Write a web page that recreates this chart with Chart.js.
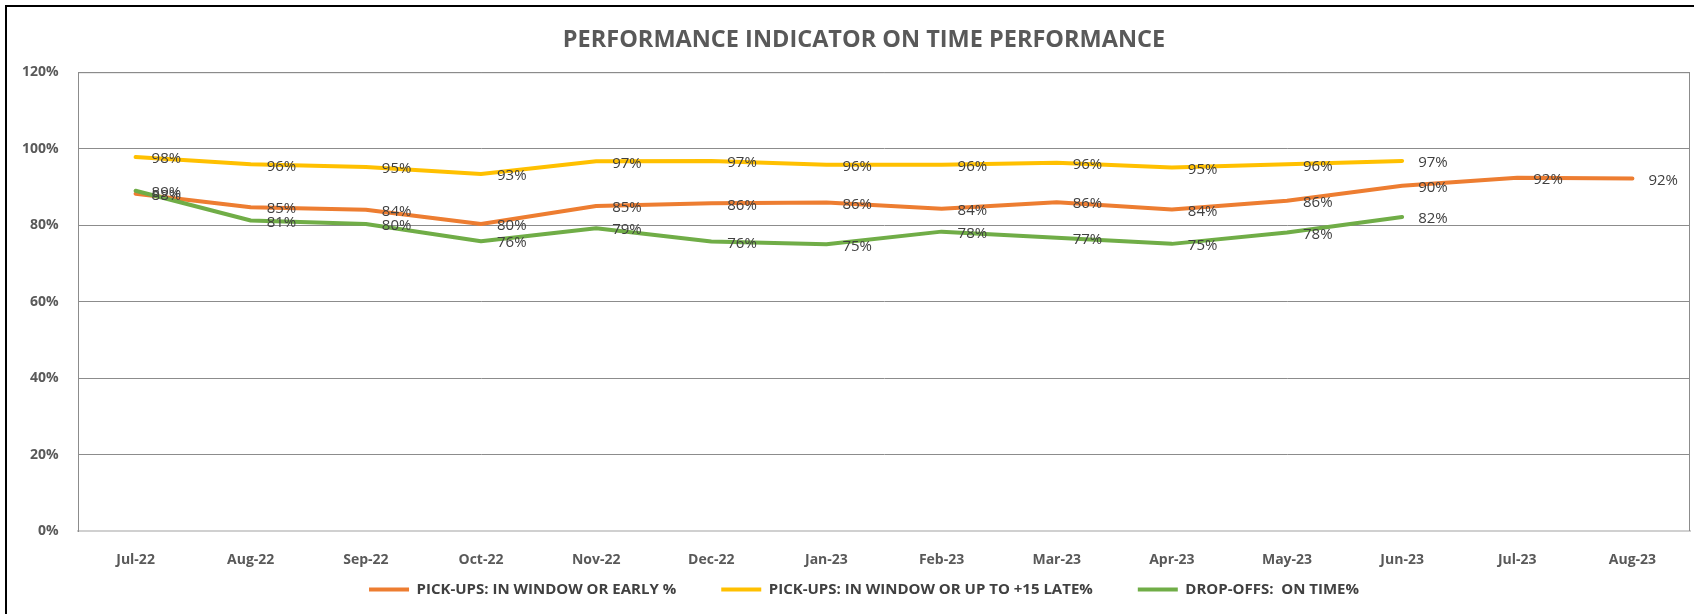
<!DOCTYPE html>
<html>
<head>
<meta charset="utf-8">
<script src="https://cdn.jsdelivr.net/npm/chart.js@4"></script>
<style>
  html, body { margin: 0; padding: 0; background: #fff; overflow: hidden; }
</style>
</head>
<body>
<canvas id="chart" width="1694" height="614"></canvas>
<script>
const months = ['Jul-22', 'Aug-22', 'Sep-22', 'Oct-22', 'Nov-22', 'Dec-22', 'Jan-23',
                'Feb-23', 'Mar-23', 'Apr-23', 'May-23', 'Jun-23', 'Jul-23', 'Aug-23'];
const pickUpsEarly = [88.2, 84.7, 84.0, 80.3, 85.0, 85.7, 85.9, 84.3, 86.0, 84.1, 86.4, 90.3, 92.4, 92.2];
const pickUpsLate15 = [97.8, 95.9, 95.2, 93.4, 96.7, 96.8, 95.8, 95.8, 96.3, 95.1, 95.9, 96.8, null, null];
const dropOffsOnTime = [89.0, 81.2, 80.3, 75.8, 79.2, 75.7, 75.0, 78.3, 76.7, 75.1, 78.1, 82.1, null, null];
const yTicks = [0, 20, 40, 60, 80, 100, 120];

// frame, plot border and value labels
const extras = {
    id: 'extras',
    afterLayout(chart) {
        // legend keeps wide gaps between items but sits tight under the axis
        if (chart.legend) chart.legend.top -= 35;
    },
    beforeDraw(chart) {
        const ctx = chart.ctx;
        ctx.save();
        ctx.strokeStyle = '#000';
        ctx.lineWidth = 2;
        ctx.strokeRect(6, 6, 2000, 2000);
        ctx.restore();
    },
    afterDatasetsDraw(chart) {
        const ctx = chart.ctx;
        const a = chart.chartArea;
        ctx.save();
        ctx.strokeStyle = '#8c8c8c';
        ctx.lineWidth = 1;
        ctx.beginPath();
        ctx.moveTo(a.left, a.top + 0.5);
        ctx.lineTo(a.right - 0.5, a.top + 0.5);
        ctx.lineTo(a.right - 0.5, a.bottom);
        ctx.stroke();

        ctx.font = '15px "Open Sans"';
        ctx.fillStyle = '#404040';
        ctx.textAlign = 'left';
        ctx.textBaseline = 'middle';
        chart.data.datasets.forEach((ds, i) => {
            chart.getDatasetMeta(i).data.forEach((pt, j) => {
                const v = ds.data[j];
                if (v == null) return;
                ctx.fillText(Math.round(v) + '%', pt.x + 16, pt.y + 2);
            });
        });
        ctx.restore();
    }
};

function createChart() {
    const ctx = document.getElementById('chart');

    new Chart(ctx, {
        type: 'line',
        data: {
            labels: months,
            datasets: [{
                label: 'PICK-UPS: IN WINDOW OR EARLY %',
                data: pickUpsEarly,
                borderColor: '#ED7D31',
                backgroundColor: '#ED7D31',
                order: 3
            }, {
                label: 'PICK-UPS: IN WINDOW OR UP TO +15 LATE%',
                data: pickUpsLate15,
                borderColor: '#FFC000',
                backgroundColor: '#FFC000',
                order: 2
            }, {
                label: 'DROP-OFFS:  ON TIME%',
                data: dropOffsOnTime,
                borderColor: '#70AD47',
                backgroundColor: '#70AD47',
                order: 1
            }]
        },
        options: {
            responsive: false,
            animation: false,
            layout: {
                padding: { left: 38, right: 4, top: 26, bottom: 6 }
            },
            elements: {
                line: { borderWidth: 4, tension: 0, borderJoinStyle: 'round', borderCapStyle: 'round' },
                point: { radius: 0 }
            },
            plugins: {
                title: {
                    display: true,
                    text: 'PERFORMANCE INDICATOR ON TIME PERFORMANCE',
                    color: '#595959',
                    font: { family: 'Open Sans', size: 23.5, weight: 'bold' },
                    padding: { top: 0, bottom: 18 }
                },
                legend: {
                    position: 'bottom',
                    maxHeight: 36,
                    labels: {
                        color: '#404040',
                        font: { family: 'Open Sans', size: 15, weight: 'bold' },
                        boxWidth: 40,
                        boxHeight: 4,
                        padding: 45,
                        sort: (a, b) => a.datasetIndex - b.datasetIndex,
                        generateLabels(chart) {
                            return Chart.defaults.plugins.legend.labels.generateLabels(chart)
                                .map(l => Object.assign(l, { lineWidth: 0 }));
                        }
                    }
                },
                tooltip: { enabled: false }
            },
            scales: {
                x: {
                    offset: true,
                    afterFit(scale) { scale.height = 41; },
                    grid: { display: false },
                    border: { color: '#d0d0d0', width: 2 },
                    ticks: {
                        color: '#595959',
                        font: { family: 'Open Sans', size: 14, weight: 'bold' },
                        padding: 13,
                        maxRotation: 0
                    }
                },
                y: {
                    min: 0,
                    max: 120,
                    afterFit(scale) { scale.width = 40; },
                    afterBuildTicks(scale) { scale.ticks = yTicks.map(v => ({ value: v })); },
                    grid: { color: '#8c8c8c', drawTicks: false },
                    border: { color: '#8c8c8c' },
                    ticks: {
                        mirror: true,
                        crossAlign: 'far',
                        padding: -56,
                        color: '#595959',
                        font: { family: 'Open Sans', size: 14, weight: 'bold' },
                        callback: v => v + '%'
                    }
                }
            }
        },
        plugins: [extras]
    });
}

createChart();
</script>
</body>
</html>
